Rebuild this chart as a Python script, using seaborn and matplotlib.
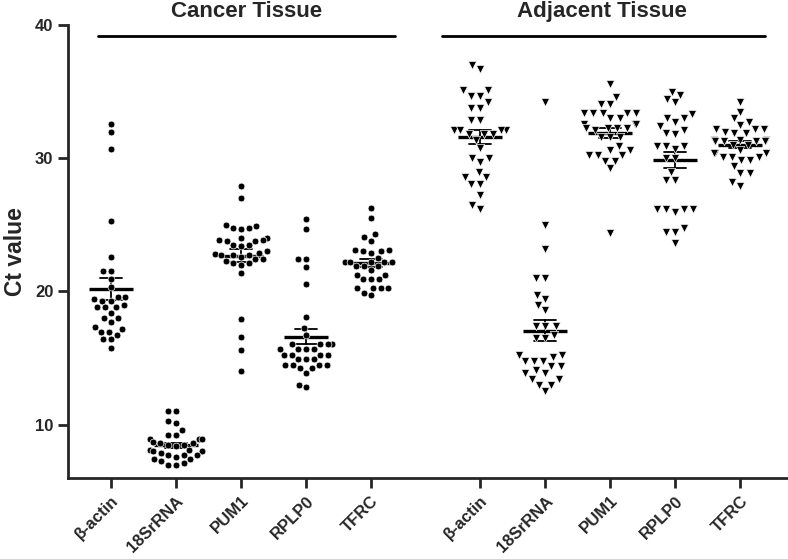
import pandas as pd
import matplotlib.pyplot as plt
import seaborn as sns

genes = ['β-actin', '18SrRNA', 'PUM1', 'RPLP0', 'TFRC']
tissues = ['Cancer Tissue', 'Adjacent Tissue']

# Ct values (cancer tissue)
cancer_bactin = [32.6, 32.0, 30.7, 25.3, 22.6, 21.5, 21.5, 20.9, 20.3, 19.6, 19.6, 19.4,
                 19.3, 19.3, 19.0, 18.8, 18.8, 18.8, 18.4, 18.0, 18.0, 17.7, 17.3, 17.2,
                 16.95, 16.95, 16.75, 16.4, 16.4, 15.75]
cancer_18s = [11.0, 11.0, 10.25, 10.1, 9.6, 9.25, 9.25, 8.9, 8.9, 8.9, 8.7, 8.6, 8.6,
              8.5, 8.5, 8.4, 8.1, 8.1, 8.0, 8.0, 7.9, 7.75, 7.75, 7.7, 7.6, 7.4, 7.4,
              7.3, 7.1, 7.0, 7.0]
cancer_pum1 = [27.9, 27.0, 25.0, 24.9, 24.8, 24.8, 24.7, 24.0, 24.0, 23.9, 23.9, 23.8,
               23.8, 23.5, 23.5, 23.4, 23.0, 22.9, 22.8, 22.75, 22.7, 22.7, 22.6, 22.4,
               22.4, 22.3, 22.1, 22.1, 22.0, 21.4, 17.9, 16.6, 15.6, 14.05]
cancer_rplp0 = [25.45, 24.7, 22.45, 22.45, 21.8, 20.55, 18.1, 17.25, 16.7, 16.05, 16.05,
                16.05, 16.05, 15.7, 15.7, 15.7, 15.7, 15.25, 15.25, 15.25, 15.25, 14.9,
                14.9, 14.9, 14.5, 14.5, 14.5, 14.5, 14.25, 14.25, 13.9, 13.0, 12.8]
cancer_tfrc = [26.25, 25.55, 24.3, 24.1, 23.8, 23.1, 23.1, 23.0, 23.0, 22.9, 22.5, 22.2,
               22.2, 22.2, 22.2, 22.2, 21.9, 21.9, 21.9, 21.6, 21.25, 21.25, 20.9, 20.9,
               20.9, 20.25, 20.25, 20.25, 20.25, 19.9, 19.7]

# Ct values (adjacent tissue)
adj_bactin = [37.0, 36.7, 35.1, 35.1, 34.7, 34.7, 34.2, 33.8, 33.8, 32.9, 32.9, 32.1,
              32.1, 32.1, 32.1, 32.1, 31.8, 31.8, 31.8, 31.4, 30.8, 30.0, 30.0, 29.75,
              29.0, 28.6, 28.6, 28.1, 28.1, 27.25, 26.5, 26.2]
adj_18s = [34.2, 25.0, 23.2, 21.0, 21.0, 19.7, 19.4, 19.0, 18.6, 17.4, 17.4, 17.4, 16.75,
           16.5, 16.5, 15.25, 15.25, 15.05, 14.75, 14.75, 14.75, 14.4, 14.4, 14.1, 13.9,
           13.9, 13.4, 13.4, 13.0, 13.0, 12.5]
adj_pum1 = [35.6, 34.6, 34.1, 34.1, 33.4, 33.4, 33.4, 33.4, 33.4, 33.0, 33.0, 32.6, 32.6,
            32.6, 32.25, 32.25, 32.25, 32.25, 32.1, 31.6, 31.6, 31.6, 30.9, 30.6, 30.6,
            30.25, 30.25, 30.25, 29.8, 29.8, 29.25, 24.4]
adj_rplp0 = [35.0, 34.75, 34.45, 34.2, 33.3, 33.0, 33.0, 32.75, 32.4, 32.1, 31.9, 31.8,
             30.9, 30.9, 30.9, 30.7, 30.0, 30.0, 29.0, 28.4, 28.4, 26.2, 26.2, 26.2, 26.2,
             26.0, 24.75, 24.5, 24.5, 23.6]
adj_tfrc = [34.2, 33.5, 33.0, 32.75, 32.5, 32.2, 32.2, 32.2, 32.0, 31.9, 31.9, 31.4, 31.4,
            31.4, 31.3, 31.3, 31.3, 31.3, 31.0, 31.0, 30.6, 30.4, 30.4, 30.4, 30.1, 30.1,
            30.1, 29.85, 29.85, 29.4, 28.9, 28.9, 28.25, 27.9]

cancer = [cancer_bactin, cancer_18s, cancer_pum1, cancer_rplp0, cancer_tfrc]
adjacent = [adj_bactin, adj_18s, adj_pum1, adj_rplp0, adj_tfrc]

# x layout: two blocks of five with a wider gap between them
gap = 5.68
rows = []
for t, (tissue, group) in enumerate(zip(tissues, [cancer, adjacent])):
    for g, (gene, vals) in enumerate(zip(genes, group)):
        for v in vals:
            rows.append({'tissue': tissue, 'gene': gene, 'pos': g + t * gap, 'ct': v})
df = pd.DataFrame(rows)

sns.set_theme(style='ticks')
plt.rcParams['font.family'] = ['Liberation Sans', 'DejaVu Sans']
plt.rcParams['font.weight'] = 'bold'

fig = plt.figure(figsize=(7.88, 5.59), dpi=100)
ax = fig.add_axes([0.0863, 0.1449, 0.9137, 0.8104])

markers = {'Cancer Tissue': 'o', 'Adjacent Tissue': 'v'}
sizes = {'Cancer Tissue': 4.9, 'Adjacent Tissue': 5.9}
for tissue in tissues:
    sub = df[df['tissue'] == tissue]
    sns.swarmplot(data=sub, x='pos', y='ct', native_scale=True, orient='x',
                  color='black', marker=markers[tissue], size=sizes[tissue],
                  edgecolor='white', linewidth=0.5, ax=ax)
    # mean with SEM
    sns.pointplot(data=sub, x='pos', y='ct', native_scale=True, orient='x',
                  errorbar='se', color='black', marker='_', markersize=31,
                  markeredgewidth=2.4, linestyle='none', capsize=0.34,
                  err_kws={'linewidth': 1.3}, ax=ax)

positions = sorted(df['pos'].unique())
ax.set_xticks(positions)
ax.set_xticklabels(genes * 2, rotation=45, ha='right', rotation_mode='anchor',
                   fontsize=12, fontweight='bold')
ax.set_xlim(-0.66, 10.415)
ax.set_ylim(6, 40)
ax.set_yticks([10, 20, 30, 40])
ax.tick_params(axis='y', labelsize=12, length=7, width=2, direction='out')
ax.tick_params(axis='x', length=7, width=2, direction='out', pad=4)
for lab in ax.get_yticklabels():
    lab.set_fontweight('bold')

ax.set_xlabel('')
ax.set_ylabel('Ct value', fontsize=16.5, fontweight='bold', labelpad=6)

sns.despine(ax=ax)
ax.spines['left'].set_linewidth(2)
ax.spines['bottom'].set_linewidth(2)

# group headers with rules
ax.plot([-0.2, 4.37], [39.17, 39.17], color='black', lw=2, clip_on=False)
ax.plot([5.09, 10.06], [39.17, 39.17], color='black', lw=2, clip_on=False)
ax.text(2.08, 41.0, 'Cancer Tissue', ha='center', va='center', fontsize=16,
        fontweight='bold', clip_on=False)
ax.text(7.55, 41.0, 'Adjacent Tissue', ha='center', va='center', fontsize=16,
        fontweight='bold', clip_on=False)

plt.savefig('out.png', dpi=100)
